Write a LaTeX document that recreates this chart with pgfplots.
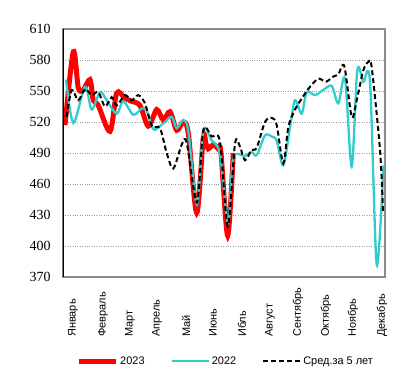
\documentclass[border=0pt]{standalone}
\usepackage{fontspec}
\setmainfont{Liberation Sans}
\newfontfamily\serifnum{Liberation Serif}
\usepackage{pgfplots}
\pgfplotsset{compat=1.18}
\definecolor{teal22}{RGB}{51,204,204}
\definecolor{framegray}{RGB}{140,140,140}
\begin{document}
\begin{tikzpicture}
\useasboundingbox (-63bp,-112bp) rectangle (356bp,277bp);
\begin{axis}[
  at={(0,0)}, anchor=south west,
  scale only axis, width=322bp, height=248bp,
  xmin=0, xmax=322, ymin=370, ymax=610,
  ytick={370,400,...,610},
  yticklabel={\serifnum\fontsize{14}{16}\selectfont\pgfmathprintnumber[assume math mode=true]{\tick}},
  xtick={10,40,67,94,123,150,179,207,235,263,290,319},
  xticklabels={Январь,Февраль,Март,Апрель,Май,Июнь,Ибль,Август,Сентябрь,Октябрь,Ноябрь,Декабрь},
  major tick length=0pt,
  ymajorgrids, grid style={dotted, line width=0.8bp, gray!80},
  axis line style={draw=framegray, line width=1.6bp},
  y tick label style={anchor=east, xshift=-9bp},
  x tick label style={font=\fontsize{11}{13}\selectfont, rotate=90, anchor=west, inner sep=0pt},
  xticklabel shift=60bp,
  legend columns=3,
  legend style={draw=none, fill=none, at={(0.505,-0.339)}, anchor=center,
    font=\fontsize{11}{13}\selectfont,
    /tikz/every even column/.append style={column sep=24bp}},
  legend image code/.code={\draw[#1] (0bp,0bp) -- (37bp,0bp);},
]
\addplot[red, line width=5bp, smooth, tension=0.5] coordinates {
(2,517) (10.3,588) (15.3,553) (20.3,551) (27,561) (30.3,541) (35.3,536)
(47,511) (53.7,548) (62,543) (68.7,540) (77,536) (85.3,516) (93.7,532)
(100.3,522) (107,530) (113.7,512) (120.3,520) (125.3,509) (133.7,432)
(140.3,505) (143,499) (145.3,494) (150.3,498) (155.3,494) (158,490)
(164.7,410) (170.3,490)
};
\addlegendentry{2023}
\addplot[teal22, line width=2.3bp, smooth, tension=0.5] coordinates {
(3,561) (10.3,519) (22,554) (28.7,532) (37,549) (43.7,541) (53.7,528)
(60.3,540) (70.3,527) (78.7,533) (83.7,531) (90.3,513) (97,516) (101,519)
(108.7,525) (113.7,514) (120.3,522) (125.3,511) (134,440) (140.3,512)
(148.7,502) (157,489) (165,422) (170.3,485) (182,487) (188.7,491)
(193.7,488) (202,507) (208.7,506) (213.7,502) (220.3,478) (227,515)
(232,541) (238.7,528) (243.7,549) (252,546) (260.3,551) (268.7,555)
(275.3,538) (282,562) (288.7,477) (294.3,570) (300.3,559) (307,559)
(313.7,382) (320.5,478)
};
\addlegendentry{2022}
\addplot[black, line width=2bp, dash pattern=on 5bp off 3bp, smooth, tension=0.5] coordinates {
(3.7,525) (8.7,551) (15.3,541) (22,552) (28.7,546) (35.3,549) (42,535)
(48.7,544) (53.7,536) (62,546) (68.7,541) (75.3,546) (82,538) (89,516)
(97,514) (103.7,490) (110.3,475) (118.7,498) (123.7,500) (134,442)
(140.3,512) (148.7,506) (157,501) (164.7,419) (172,499) (177,496)
(182,483) (188.7,493) (193.7,495) (202,520) (208.7,524) (213.7,517)
(220.3,480) (225.3,515) (232,532) (240.3,545) (247,554) (255.3,562)
(263,559) (270.3,564) (275.3,566) (281.3,574) (288.7,525) (293.7,541)
(300.3,570) (305.3,578) (308.7,573) (317,493) (320,433)
};
\addlegendentry{Сред.за 5 лет}
\draw[black, line width=2bp] (rel axis cs:0,0) -- (rel axis cs:0,1);
\end{axis}
\end{tikzpicture}
\end{document}
